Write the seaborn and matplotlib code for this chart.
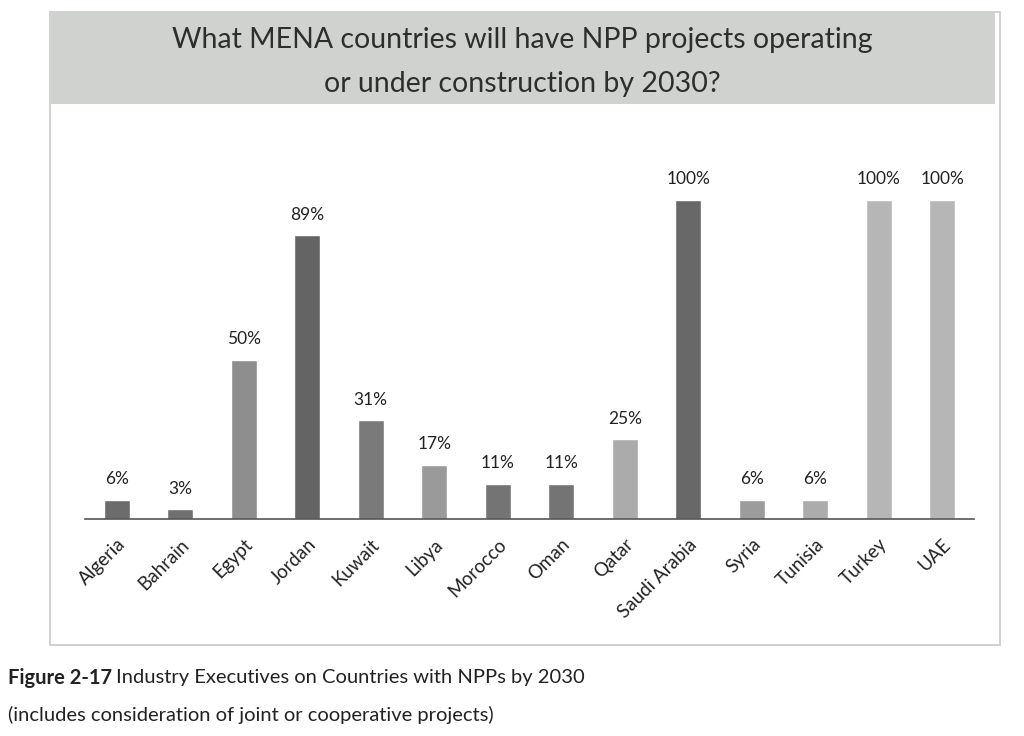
import numpy as np
import pandas as pd
import seaborn as sns
import matplotlib
matplotlib.use('Agg')
import matplotlib.pyplot as plt
from matplotlib.patches import Rectangle

countries = ['Algeria', 'Bahrain', 'Egypt', 'Jordan', 'Kuwait', 'Libya', 'Morocco',
             'Oman', 'Qatar', 'Saudi Arabia', 'Syria', 'Tunisia', 'Turkey', 'UAE']
shares = [6, 3, 50, 89, 31, 17, 11, 11, 25, 100, 6, 6, 100, 100]
greys = ['#6c6c6c', '#707070', '#8e8e8e', '#646464', '#7a7a7a', '#9a9a9a', '#747474',
         '#747474', '#ababab', '#686868', '#9c9c9c', '#acacac', '#b6b6b6', '#b6b6b6']

df = pd.DataFrame({'country': countries, 'share': shares})

sns.set_style('white')
plt.rcParams['font.family'] = ['Lato', 'DejaVu Sans']

fig = plt.figure(figsize=(10.24, 7.36), dpi=100)

# frame and grey title band
fig.patches.append(Rectangle((50/1024, 1-645/736), 950/1024, 633/736, transform=fig.transFigure,
                             fill=False, edgecolor='#c8c8c8', linewidth=1.2))
fig.patches.append(Rectangle((50/1024, 1-104/736), 945/1024, 92/736, transform=fig.transFigure,
                             facecolor='#d0d2d0', edgecolor='none'))
fig.text(522/1024, 1-40/736, 'What MENA countries will have NPP projects operating',
         ha='center', va='center', fontsize=20.5, color='#2e2e2e')
fig.text(522/1024, 1-84/736, 'or under construction by 2030?',
         ha='center', va='center', fontsize=20.5, color='#2e2e2e')

ax = fig.add_axes([85/1024, 1-519/736, 889/1024, 379/736])
sns.barplot(data=df, x='country', y='share', hue='country', palette=greys,
            width=0.41, legend=False, ax=ax, saturation=1)
ax.set_xlim(-0.5, 13.5)
ax.set_ylim(0, 100*379/319)
ax.set_xlabel('')
ax.set_ylabel('')
ax.set_yticks([])
for s in ['top', 'right', 'left']:
    ax.spines[s].set_visible(False)
ax.spines['bottom'].set_color('#555555')
ax.spines['bottom'].set_linewidth(1.2)
ax.tick_params(axis='x', length=0, pad=12)
plt.setp(ax.get_xticklabels(), rotation=45, ha='right', rotation_mode='anchor',
         fontsize=13.5, color='#222222')

for i, v in enumerate(shares):
    ax.annotate(f'{v}%', (i, v), xytext=(0, 9), textcoords='offset points',
                ha='center', va='bottom', fontsize=12.5, color='#222222')

fig.text(8/1024, 1-678/736, 'Figure 2-17', fontsize=14.5, fontweight='bold',
         color='#222222', va='center')
fig.text(116/1024, 1-678/736, 'Industry Executives on Countries with NPPs by 2030', fontsize=14.5,
         color='#222222', va='center')
fig.text(8/1024, 1-715/736, '(includes consideration of joint or cooperative projects)', fontsize=14.5,
         color='#222222', va='center')

fig.savefig('out.png', dpi=100)
